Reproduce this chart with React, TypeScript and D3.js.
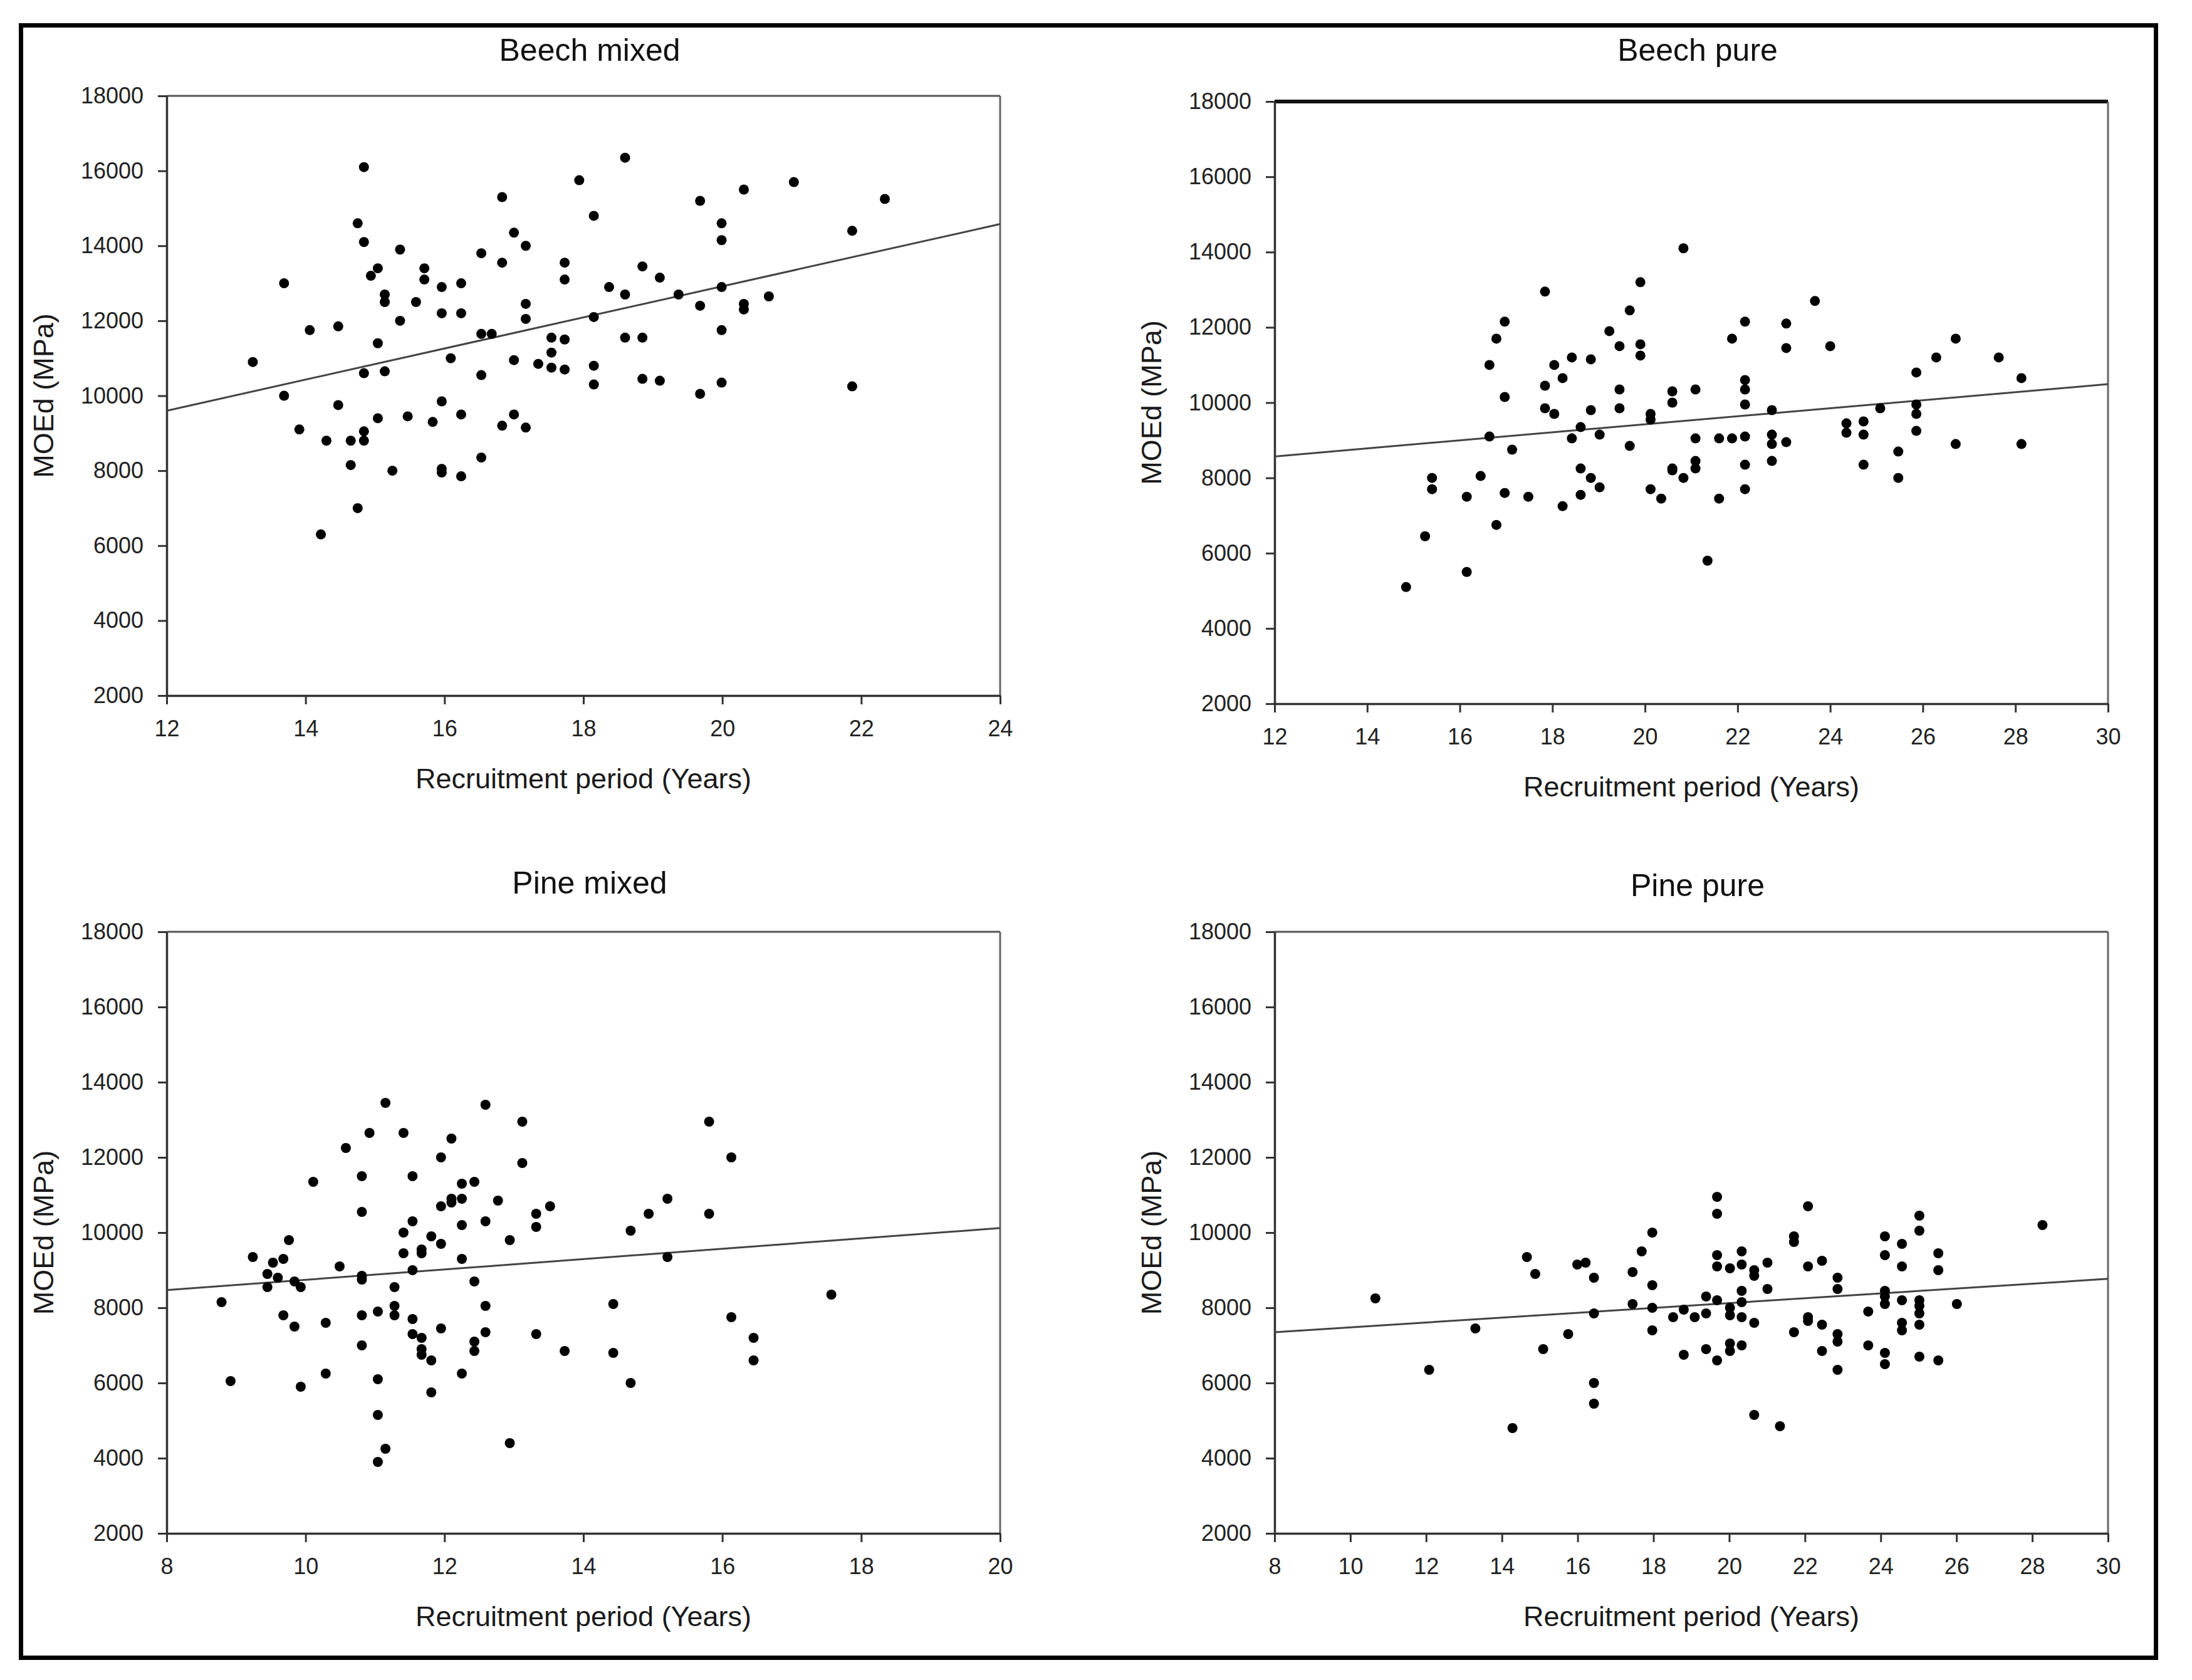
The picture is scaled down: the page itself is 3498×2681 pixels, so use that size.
import { useRef, useEffect } from "react";
import * as d3 from "d3";

type Pt = [number, number];

// shared y ticks (MOEd, MPa)
const yTicks = [2000, 4000, 6000, 8000, 10000, 12000, 14000, 16000, 18000];

const beechMixedXTicks = [12, 14, 16, 18, 20, 22, 24];
const beechPureXTicks = [12, 14, 16, 18, 20, 22, 24, 26, 28, 30];
const pineMixedXTicks = [8, 10, 12, 14, 16, 18, 20];
const pinePureXTicks = [8, 10, 12, 14, 16, 18, 20, 22, 24, 26, 28, 30];

// [recruitment period (years), MOEd (MPa)]
const beechMixed: Pt[] = [
  [13.24, 10900], [13.69, 13000], [13.69, 10000], [13.91, 9100], [14.06, 11750],
  [14.22, 6300], [14.3, 8800], [14.47, 11850], [14.47, 9750], [14.65, 8800],
  [14.65, 8150], [14.75, 14600], [14.75, 7000], [14.84, 16100], [14.84, 14100],
  [14.84, 10600], [14.84, 9050], [14.84, 8800], [14.94, 13200], [15.04, 13400],
  [15.04, 11400], [15.04, 9400], [15.14, 12700], [15.14, 12500], [15.14, 10650],
  [15.25, 8000], [15.36, 13900], [15.36, 12000], [15.47, 9450], [15.59, 12500],
  [15.71, 13400], [15.71, 13100], [15.83, 9300], [15.96, 12900], [15.96, 12200],
  [15.96, 9850], [15.96, 8050], [15.96, 7950], [16.09, 11000], [16.24, 13000],
  [16.24, 12200], [16.24, 9500], [16.24, 7850], [16.53, 13800], [16.53, 11650],
  [16.53, 10550], [16.53, 8350], [16.68, 11650], [16.83, 15300], [16.83, 13550],
  [16.83, 9200], [17.0, 14350], [17.0, 10950], [17.0, 9500], [17.17, 14000],
  [17.17, 12450], [17.17, 12050], [17.17, 9150], [17.35, 10850], [17.54, 11550],
  [17.54, 11150], [17.54, 10750], [17.73, 13550], [17.73, 13100], [17.73, 11500],
  [17.73, 10700], [17.94, 15750], [18.15, 14800], [18.15, 12100], [18.15, 10800],
  [18.15, 10300], [18.37, 12900], [18.6, 16350], [18.6, 12700], [18.6, 11550],
  [18.85, 13450], [18.85, 11550], [18.85, 10450], [19.1, 13150], [19.1, 10400],
  [19.37, 12700], [19.68, 15200], [19.68, 12400], [19.68, 10050], [19.99, 14600],
  [19.99, 14150], [19.99, 12900], [19.99, 11750], [19.99, 10350], [20.31, 15500],
  [20.31, 12450], [20.31, 12300], [20.67, 12650], [21.03, 15700], [21.87, 14400],
  [21.87, 10250], [22.34, 15250],
];

const beechPure: Pt[] = [
  [14.84, 5100], [15.25, 6450], [15.4, 8000], [15.4, 7700], [16.15, 7500],
  [16.15, 5500], [16.45, 8050], [16.64, 11000], [16.64, 9100], [16.79, 11700],
  [16.79, 6750], [16.97, 12150], [16.97, 10150], [16.97, 7600], [17.13, 8750],
  [17.48, 7500], [17.84, 12950], [17.84, 10450], [17.84, 9850], [18.04, 11000],
  [18.04, 9700], [18.22, 10650], [18.22, 7250], [18.42, 11200], [18.42, 9050],
  [18.61, 9350], [18.61, 8250], [18.61, 7550], [18.83, 11150], [18.83, 9800],
  [18.83, 8000], [19.02, 9150], [19.02, 7750], [19.23, 11900], [19.45, 11500],
  [19.45, 10350], [19.45, 9850], [19.67, 12450], [19.67, 8850], [19.9, 13200],
  [19.9, 11550], [19.9, 11250], [20.12, 9700], [20.12, 9550], [20.12, 7700],
  [20.35, 7450], [20.59, 10300], [20.59, 10000], [20.59, 8250], [20.59, 8200],
  [20.83, 14100], [20.83, 8000], [21.09, 10350], [21.09, 9050], [21.09, 8450],
  [21.09, 8250], [21.35, 5800], [21.6, 7450], [21.6, 9050], [21.88, 11700],
  [21.88, 9050], [22.16, 12150], [22.16, 10600], [22.16, 10350], [22.16, 9950],
  [22.16, 9100], [22.16, 8350], [22.16, 7700], [22.74, 9800], [22.74, 9150],
  [22.74, 8900], [22.74, 8450], [23.05, 12100], [23.05, 11450], [23.05, 8950],
  [23.67, 12700], [24.0, 11500], [24.35, 9450], [24.35, 9200], [24.72, 9500],
  [24.72, 9150], [24.72, 8350], [25.08, 9850], [25.47, 8700], [25.47, 8000],
  [25.86, 10800], [25.86, 9950], [25.86, 9700], [25.86, 9250], [26.29, 11200],
  [26.71, 11700], [26.71, 8900], [27.64, 11200], [28.13, 10650], [28.13, 8900],
];

const pineMixed: Pt[] = [
  [8.79, 8150], [8.92, 6050], [9.24, 9350], [9.45, 8900], [9.45, 8550],
  [9.53, 9200], [9.6, 8800], [9.68, 9300], [9.68, 7800], [9.76, 9800],
  [9.84, 8700], [9.84, 7500], [9.93, 8550], [9.93, 5900], [10.11, 11350],
  [10.29, 7600], [10.29, 6250], [10.49, 9100], [10.58, 12250], [10.81, 11500],
  [10.81, 10550], [10.81, 8850], [10.81, 8750], [10.81, 7800], [10.81, 7000],
  [10.92, 12650], [11.04, 7900], [11.04, 6100], [11.04, 5150], [11.04, 3900],
  [11.15, 13450], [11.15, 4250], [11.28, 8550], [11.28, 8050], [11.28, 7800],
  [11.41, 12650], [11.41, 10000], [11.41, 9450], [11.54, 11500], [11.54, 10300],
  [11.54, 9000], [11.54, 7700], [11.54, 7300], [11.67, 9550], [11.67, 9450],
  [11.67, 7200], [11.67, 6900], [11.67, 6750], [11.81, 9900], [11.81, 6600],
  [11.81, 5750], [11.95, 12000], [11.95, 10700], [11.95, 9700], [11.95, 7450],
  [12.1, 12500], [12.1, 10900], [12.1, 10800], [12.25, 11300], [12.25, 10900],
  [12.25, 10200], [12.25, 9300], [12.25, 6250], [12.43, 11350], [12.43, 8700],
  [12.43, 7100], [12.43, 6850], [12.59, 13400], [12.59, 10300], [12.59, 8050],
  [12.59, 7350], [12.77, 10850], [12.94, 9800], [12.94, 4400], [13.12, 12950],
  [13.12, 11850], [13.32, 10500], [13.32, 10150], [13.32, 7300], [13.52, 10700],
  [13.73, 6850], [14.43, 8100], [14.43, 6800], [14.68, 10050], [14.68, 6000],
  [14.94, 10500], [15.21, 10900], [15.21, 9350], [15.81, 12950], [15.81, 10500],
  [16.13, 12000], [16.13, 7750], [16.45, 7200], [16.45, 6600], [17.57, 8350],
];

const pinePure: Pt[] = [
  [10.66, 8250], [12.08, 6350], [13.3, 7450], [14.28, 4800], [14.66, 9350],
  [14.88, 8900], [15.09, 6900], [15.75, 7300], [15.99, 9150], [16.21, 9200],
  [16.43, 8800], [16.43, 7850], [16.43, 6000], [16.43, 5450], [17.45, 8950],
  [17.45, 8100], [17.69, 9500], [17.97, 10000], [17.97, 8600], [17.97, 8000],
  [17.97, 7400], [18.52, 7750], [18.8, 7950], [18.8, 6750], [19.09, 7750],
  [19.39, 8300], [19.39, 7850], [19.39, 6900], [19.68, 10950], [19.68, 10500],
  [19.68, 9400], [19.68, 9100], [19.68, 8200], [19.68, 6600], [20.02, 9050],
  [20.02, 8000], [20.02, 7800], [20.02, 7050], [20.02, 6850], [20.33, 9500],
  [20.33, 9150], [20.33, 8450], [20.33, 8150], [20.33, 7750], [20.33, 7000],
  [20.66, 9000], [20.66, 8850], [20.66, 7600], [20.66, 5150], [21.01, 9200],
  [21.01, 8500], [21.34, 4850], [21.71, 9900], [21.71, 9750], [21.71, 7350],
  [22.08, 10700], [22.08, 9100], [22.08, 7750], [22.08, 7650], [22.45, 9250],
  [22.45, 7550], [22.45, 6850], [22.86, 8800], [22.86, 8500], [22.86, 7300],
  [22.86, 7100], [22.86, 6350], [23.67, 7900], [23.67, 7000], [24.11, 9900],
  [24.11, 9400], [24.11, 8450], [24.11, 8300], [24.11, 8100], [24.11, 6800],
  [24.11, 6500], [24.56, 9700], [24.56, 9100], [24.56, 8200], [24.56, 7600],
  [24.56, 7400], [25.02, 10450], [25.02, 10050], [25.02, 8200], [25.02, 8050],
  [25.02, 7850], [25.02, 7550], [25.02, 6700], [25.52, 9450], [25.52, 9000],
  [25.52, 6600], [26.01, 8100], [28.27, 10200],
];

// fitted regression lines, value at each end of the x range
const beechMixedFit: Pt[] = [[12, 9600], [24, 14580]];
const beechPureFit: Pt[] = [[12, 8570], [30, 10490]];
const pineMixedFit: Pt[] = [[8, 8470], [20, 10120]];
const pinePureFit: Pt[] = [[8, 7350], [30, 8770]];

const FONT = "'Liberation Sans', Arial, sans-serif";

const panels = [
  { title: "Beech mixed", data: beechMixed, fit: beechMixedFit, xTicks: beechMixedXTicks, left: 266, right: 1596, top: 153, bottom: 1110, titleY: 97, heavyTop: false },
  { title: "Beech pure", data: beechPure, fit: beechPureFit, xTicks: beechPureXTicks, left: 2034, right: 3364, top: 162, bottom: 1123, titleY: 97, heavyTop: true },
  { title: "Pine mixed", data: pineMixed, fit: pineMixedFit, xTicks: pineMixedXTicks, left: 266, right: 1596, top: 1487, bottom: 2447, titleY: 1426, heavyTop: false },
  { title: "Pine pure", data: pinePure, fit: pinePureFit, xTicks: pinePureXTicks, left: 2034, right: 3364, top: 1487, bottom: 2447, titleY: 1430, heavyTop: false },
];

export default function App() {
  const svgRef = useRef<SVGSVGElement>(null);

  useEffect(() => {
    if (!svgRef.current) return;
    const svg = d3.select(svgRef.current);
    svg.selectAll("*").remove();

    svg
      .append("rect")
      .attr("width", 3498)
      .attr("height", 2681)
      .attr("fill", "#fff");

    // outer frame
    svg
      .append("rect")
      .attr("x", 33.5)
      .attr("y", 40.5)
      .attr("width", 3407)
      .attr("height", 2605)
      .attr("fill", "none")
      .attr("stroke", "#000")
      .attr("stroke-width", 7);

    panels.forEach((p) => {
      const x = d3
        .scaleLinear()
        .domain([p.xTicks[0], p.xTicks[p.xTicks.length - 1]])
        .range([p.left, p.right]);
      const y = d3
        .scaleLinear()
        .domain([yTicks[0], yTicks[yTicks.length - 1]])
        .range([p.bottom, p.top]);

      const g = svg.append("g");

      // plot box (top/right)
      g.append("line")
        .attr("x1", p.left)
        .attr("x2", p.right)
        .attr("y1", p.top)
        .attr("y2", p.top)
        .attr("stroke", p.heavyTop ? "#111" : "#555")
        .attr("stroke-width", p.heavyTop ? 6 : 3);
      g.append("line")
        .attr("x1", p.right)
        .attr("x2", p.right)
        .attr("y1", p.top)
        .attr("y2", p.bottom)
        .attr("stroke", "#666")
        .attr("stroke-width", 3);

      const xAxis = g
        .append("g")
        .attr("transform", `translate(0,${p.bottom})`)
        .call(
          d3
            .axisBottom(x)
            .tickValues(p.xTicks)
            .tickSize(14)
            .tickSizeOuter(0)
            .tickPadding(25)
            .tickFormat(d3.format("d")),
        );
      const yAxis = g
        .append("g")
        .attr("transform", `translate(${p.left},0)`)
        .call(
          d3
            .axisLeft(y)
            .tickValues(yTicks)
            .tickSize(14)
            .tickSizeOuter(0)
            .tickPadding(23)
            .tickFormat(d3.format("d")),
        );

      [xAxis, yAxis].forEach((ax) => {
        ax.select(".domain").attr("stroke", "#333").attr("stroke-width", 3.5);
        ax.selectAll(".tick line").attr("stroke", "#333").attr("stroke-width", 3);
        ax.selectAll(".tick text")
          .attr("fill", "#222")
          .style("font-family", FONT)
          .style("font-size", "36px");
      });

      // regression line
      g.append("path")
        .datum(p.fit)
        .attr("fill", "none")
        .attr("stroke", "#444")
        .attr("stroke-width", 3)
        .attr(
          "d",
          d3
            .line<Pt>()
            .x((d) => x(d[0]))
            .y((d) => y(d[1])),
        );

      g.selectAll(".dot")
        .data(p.data)
        .join("circle")
        .attr("cx", (d) => x(d[0]))
        .attr("cy", (d) => y(d[1]))
        .attr("r", 8)
        .attr("fill", "#000");

      const cx = (p.left + p.right) / 2;

      g.append("text")
        .attr("x", cx + 10)
        .attr("y", p.titleY)
        .attr("text-anchor", "middle")
        .attr("fill", "#111")
        .style("font-family", FONT)
        .style("font-size", "50px")
        .text(p.title);

      g.append("text")
        .attr("x", cx)
        .attr("y", p.bottom + 148)
        .attr("text-anchor", "middle")
        .attr("fill", "#1a1a1a")
        .style("font-family", FONT)
        .style("font-size", "45px")
        .text("Recruitment period (Years)");

      g.append("text")
        .attr(
          "transform",
          `translate(${p.left - 181},${(p.top + p.bottom) / 2}) rotate(-90)`,
        )
        .attr("text-anchor", "middle")
        .attr("fill", "#1a1a1a")
        .style("font-family", FONT)
        .style("font-size", "45px")
        .text("MOEd (MPa)");
    });
  }, []);

  return (
    <svg
      ref={svgRef}
      width={3498}
      height={2681}
      viewBox="0 0 3498 2681"
      style={{ position: "absolute", left: 0, top: 0, display: "block" }}
    />
  );
}
